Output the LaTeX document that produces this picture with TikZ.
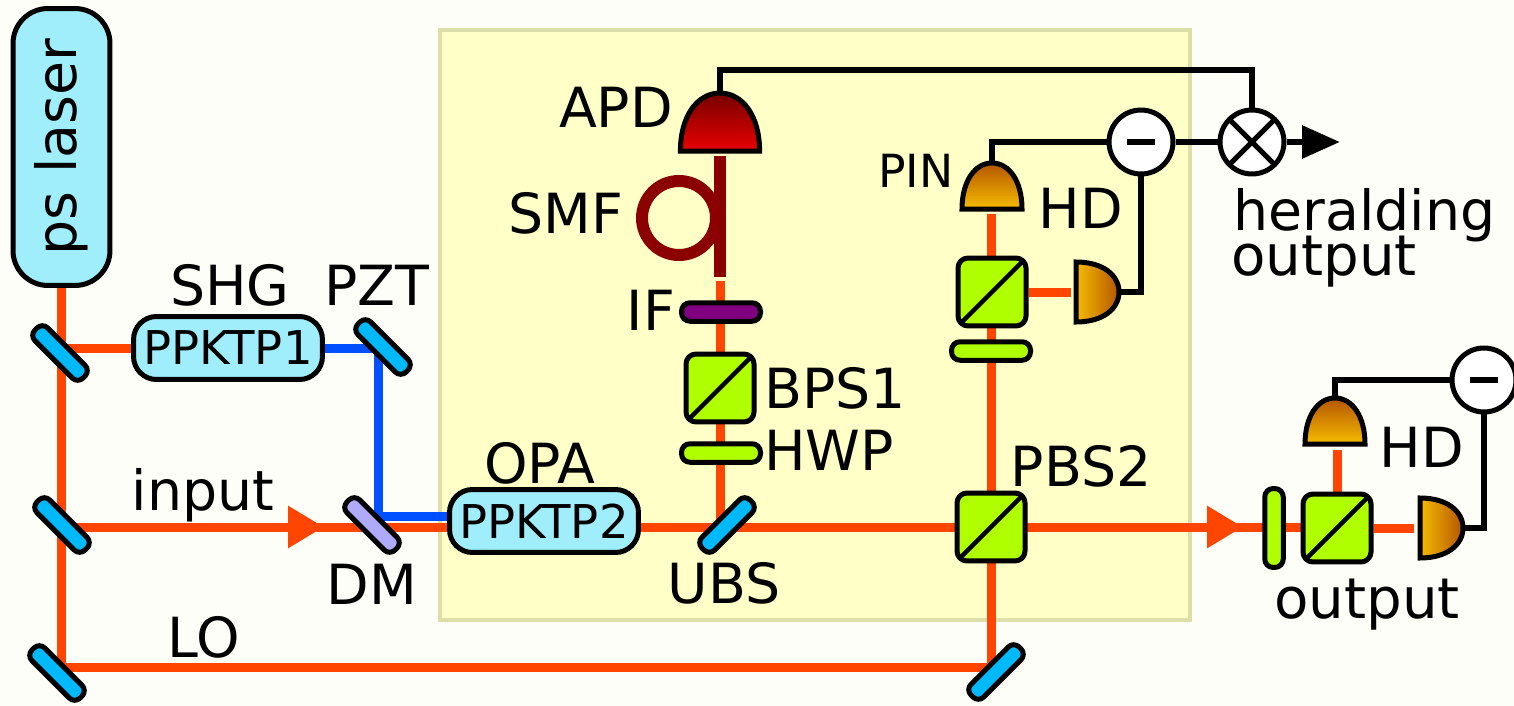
\documentclass[tikz,border=0pt]{standalone}
\usepackage{fontspec}
\setmainfont{DejaVu Sans}
\usetikzlibrary{arrows.meta,backgrounds}
\begin{document}
\begin{tikzpicture}[x=0.02cm, y=-0.02cm, line join=miter,
		font=\fontsize{31.5}{26}\selectfont,
		lab/.style={anchor=base, inner sep=0pt},
		part/.style={draw=black, line width=0.1cm},
		mirror/.style={part, fill=mirrorblue, rounded corners=0.15cm, minimum width=1.36cm, minimum height=0.36cm, inner sep=0pt},
		cube/.style={part, fill=waveyellow, rounded corners=0.2cm, minimum size=1.36cm, inner sep=0pt,
			path picture={\draw[line width=0.09cm] (path picture bounding box.south west) -- (path picture bounding box.north east);}},
		plate/.style={part, fill=waveyellow, rounded corners=0.17cm, minimum width=1.58cm, minimum height=0.37cm, inner sep=0pt},
		crystal/.style={part, fill=crystalblue, rounded corners=0.46cm, minimum width=3.78cm, minimum height=1.26cm, inner sep=0pt, font=\fontsize{26.5}{27}\selectfont},
		subtr/.style={part, fill=white, circle, minimum size=1.28cm, inner sep=0pt,
			path picture={\fill[black] ([xshift=-0.28cm,yshift=-0.06cm]path picture bounding box.center) rectangle ([xshift=0.28cm,yshift=0.06cm]path picture bounding box.center);}},
		mixer/.style={part, fill=white, circle, minimum size=1.28cm, inner sep=0pt,
			path picture={\draw[line width=0.1cm] (path picture bounding box.north west) -- (path picture bounding box.south east);
				\draw[line width=0.1cm] (path picture bounding box.south west) -- (path picture bounding box.north east);}},
		beam/.style={line width=0.18cm, beamred},
		pump/.style={line width=0.18cm, pumpblue},
		wire/.style={line width=0.13cm, black},
		pics/detup/.style 2 args={code={
			\draw[line width=0.1cm, top color=#1, bottom color=#2] (-30,0) .. controls (-30,-28) and (-17,-46) .. (0,-46) .. controls (17,-46) and (30,-28) .. (30,0) -- cycle;
			\coordinate (-top) at (0,-46);}},
		pics/detright/.style={code={
			\draw[line width=0.1cm, left color=detlight, right color=detdark] (0,-30) .. controls (28,-30) and (43,-16) .. (43,0) .. controls (43,16) and (28,30) .. (0,30) -- cycle;
			\coordinate (-tip) at (43,0);}}]
	\definecolor{beamred}{RGB}{255, 69, 0}
	\definecolor{pumpblue}{RGB}{0, 80, 255}
	\definecolor{mirrorblue}{RGB}{0, 185, 250}
	\definecolor{crystalblue}{RGB}{160, 238, 252}
	\definecolor{waveyellow}{RGB}{175, 255, 0}
	\definecolor{dmviolet}{RGB}{176, 170, 250}
	\definecolor{ifpurple}{RGB}{128, 0, 128}
	\definecolor{fiberred}{RGB}{139, 0, 0}
	\definecolor{detlight}{RGB}{245, 188, 0}
	\definecolor{detdark}{RGB}{180, 85, 0}
	\definecolor{panelfill}{RGB}{255, 255, 200}
	\definecolor{paneledge}{RGB}{222, 222, 168}
	\definecolor{paper}{RGB}{254, 254, 249}
	\useasboundingbox (0,0) rectangle (1514,706);

	\node[part, fill=crystalblue, rounded corners=0.7cm, minimum width=5.54cm, minimum height=1.94cm, rotate=90] (laser) at (61.5,147) {ps laser};
	\node[crystal] (ppktp1) at (228,348) {PPKTP1};
	\node[crystal] (ppktp2) at (544,521) {PPKTP2};
	\node[mirror, rotate=-45] (m1) at (60,353) {};
	\node[mirror, rotate=-45] (m2) at (62,525) {};
	\node[mirror, rotate=-45] (m3) at (57,673) {};
	\node[mirror, rotate=-45] (pzt) at (383,347) {};
	\node[mirror, rotate=-45, fill=dmviolet] (dm) at (372,525) {};
	\node[mirror, rotate=45] (ubs) at (727,525) {};
	\node[mirror, rotate=45] (m4) at (996,672) {};
	\node[plate, fill=ifpurple] (if) at (721,312) {};
	\node[cube] (bps1) at (720,388) {};
	\node[plate] (hwp) at (721,453) {};
	\node[cube] (bshd) at (992,292) {};
	\node[plate] (hwphd) at (991,351) {};
	\node[cube] (pbs2) at (991,527) {};
	\node[plate, rotate=90] (hwpout) at (1274,528) {};
	\node[cube] (bsout) at (1337,528) {};
	\pic (apd) [xscale=1.32, yscale=1.26] at (720,151) {detup={fiberred!85!black}{red!92!black}};
	\pic (pin) at (992,209) {detup={detdark}{detlight}};
	\pic (hdup) at (1335,444) {detup={detdark}{detlight}};
	\pic (hdright) at (1076,292) {detright};
	\pic (hdout) at (1420,528) {detright};
	\node[subtr] (sub1) at (1141,142) {};
	\node[mixer] (mix) at (1252,142) {};
	\node[subtr] (sub2) at (1484,380) {};

	\coordinate (m1spot) at (61,348);
	\coordinate (m2spot) at (61,527);
	\coordinate (lospot) at (991,667);
	\coordinate (pinend) at (991,214);
	\coordinate (hdend) at (1071,292);
	\coordinate (inhead) at (324,527);
	\coordinate (outhead) at (1243,527);
	\coordinate (fiberend) at (720,277);
	\coordinate (fiberbeam) at (720,281);
	\coordinate (fiberfoot) at (720,525);
	\coordinate (fibertop) at (720,156);
	\coordinate (bluecorner) at (378,516);
	\coordinate (upend) at (1337,450);
	\coordinate (rightend) at (1414,528);
	\coordinate (heraldend) at (1340,142);
	\coordinate (apdcorner) at (720,70);

	\begin{scope}[on background layer]
		\fill[paper] (0,0) rectangle (1514,706);
		\node[draw=paneledge, fill=panelfill, line width=0.08cm, minimum width=15cm, minimum height=11.8cm] (panel) at (815,325) {};
		\draw[beam] (laser.west) |- (lospot) -- (pinend);
		\draw[beam] (m1spot) -- (ppktp1.west);
		\draw[beam] (m2spot) -- (ppktp2.west |- inhead);
		\draw[beam, -{Triangle[length=20.4pt, width=22.7pt]}] (m2spot) -- (inhead);
		\draw[beam] (ppktp2.east |- inhead) -- (bsout.west |- outhead);
		\draw[beam, -{Triangle[length=20.4pt, width=22.7pt]}] (ppktp2.east |- inhead) -- (outhead);
		\draw[beam] (fiberfoot) -- (fiberbeam);
		\draw[beam] (bshd.east) -- (hdend);
		\draw[beam] (bsout.north) -- (upend);
		\draw[beam] (bsout.east) -- (rightend);
		\draw[pump] (ppktp1.east) -| (bluecorner) -- (ppktp2.west |- bluecorner);
		\draw[line width=0.24cm, fiberred] (fibertop) -- (fiberend);
		\draw[line width=0.24cm, fiberred] (679,218) circle (37);
	\end{scope}

	\draw[wire] (apd-top) -- (apdcorner) -| (mix.north);
	\draw[wire] (pin-top) |- (sub1.west);
	\draw[wire] (sub1.east) -- (mix.west);
	\draw[wire] (sub1.south) |- (hdright-tip);
	\draw[wire] (hdup-top) |- (sub2.west);
	\draw[wire] (sub2.south) |- (hdout-tip);
	\draw[wire, -{Triangle[length=21.5pt, width=18pt]}] (mix.east) -- (heraldend);

	\node[lab] (shglab) at (230,305) {SHG};
	\node[lab] (pztlab) at (377,305) {PZT};
	\node[lab] (apdlab) at (616,128) {APD};
	\node[lab] (smflab) at (566,233) {SMF};
	\node[lab] (iflab) at (651,330) {IF};
	\node[lab] (bpslab) at (835,408) {BPS1};
	\node[lab] (hwplab) at (829,470) {HWP};
	\node[lab, font=\fontsize{26}{26}\selectfont] (pinlab) at (916,187) {PIN};
	\node[lab] (hdlab) at (1081,228) {HD};
	\node[lab] (hdlabout) at (1422,467) {HD};
	\node[lab] (pbslab) at (1081,486) {PBS2};
	\node[lab] (opalab) at (540,483) {OPA};
	\node[lab] (inputlab) at (203,510) {input};
	\node[lab] (dmlab) at (372,604) {DM};
	\node[lab] (ubslab) at (724,603) {UBS};
	\node[lab] (lolab) at (204,657) {LO};
	\node[lab, font=\fontsize{32}{26}\selectfont] (outputlab) at (1367,618) {output};
	\node[lab, anchor=base west] (heraldlab) at (1233,230) {heralding};
	\node[lab, anchor=base west, font=\fontsize{32}{26}\selectfont] (heraldlabb) at (1231,275) {output};
\end{tikzpicture}
\end{document}
